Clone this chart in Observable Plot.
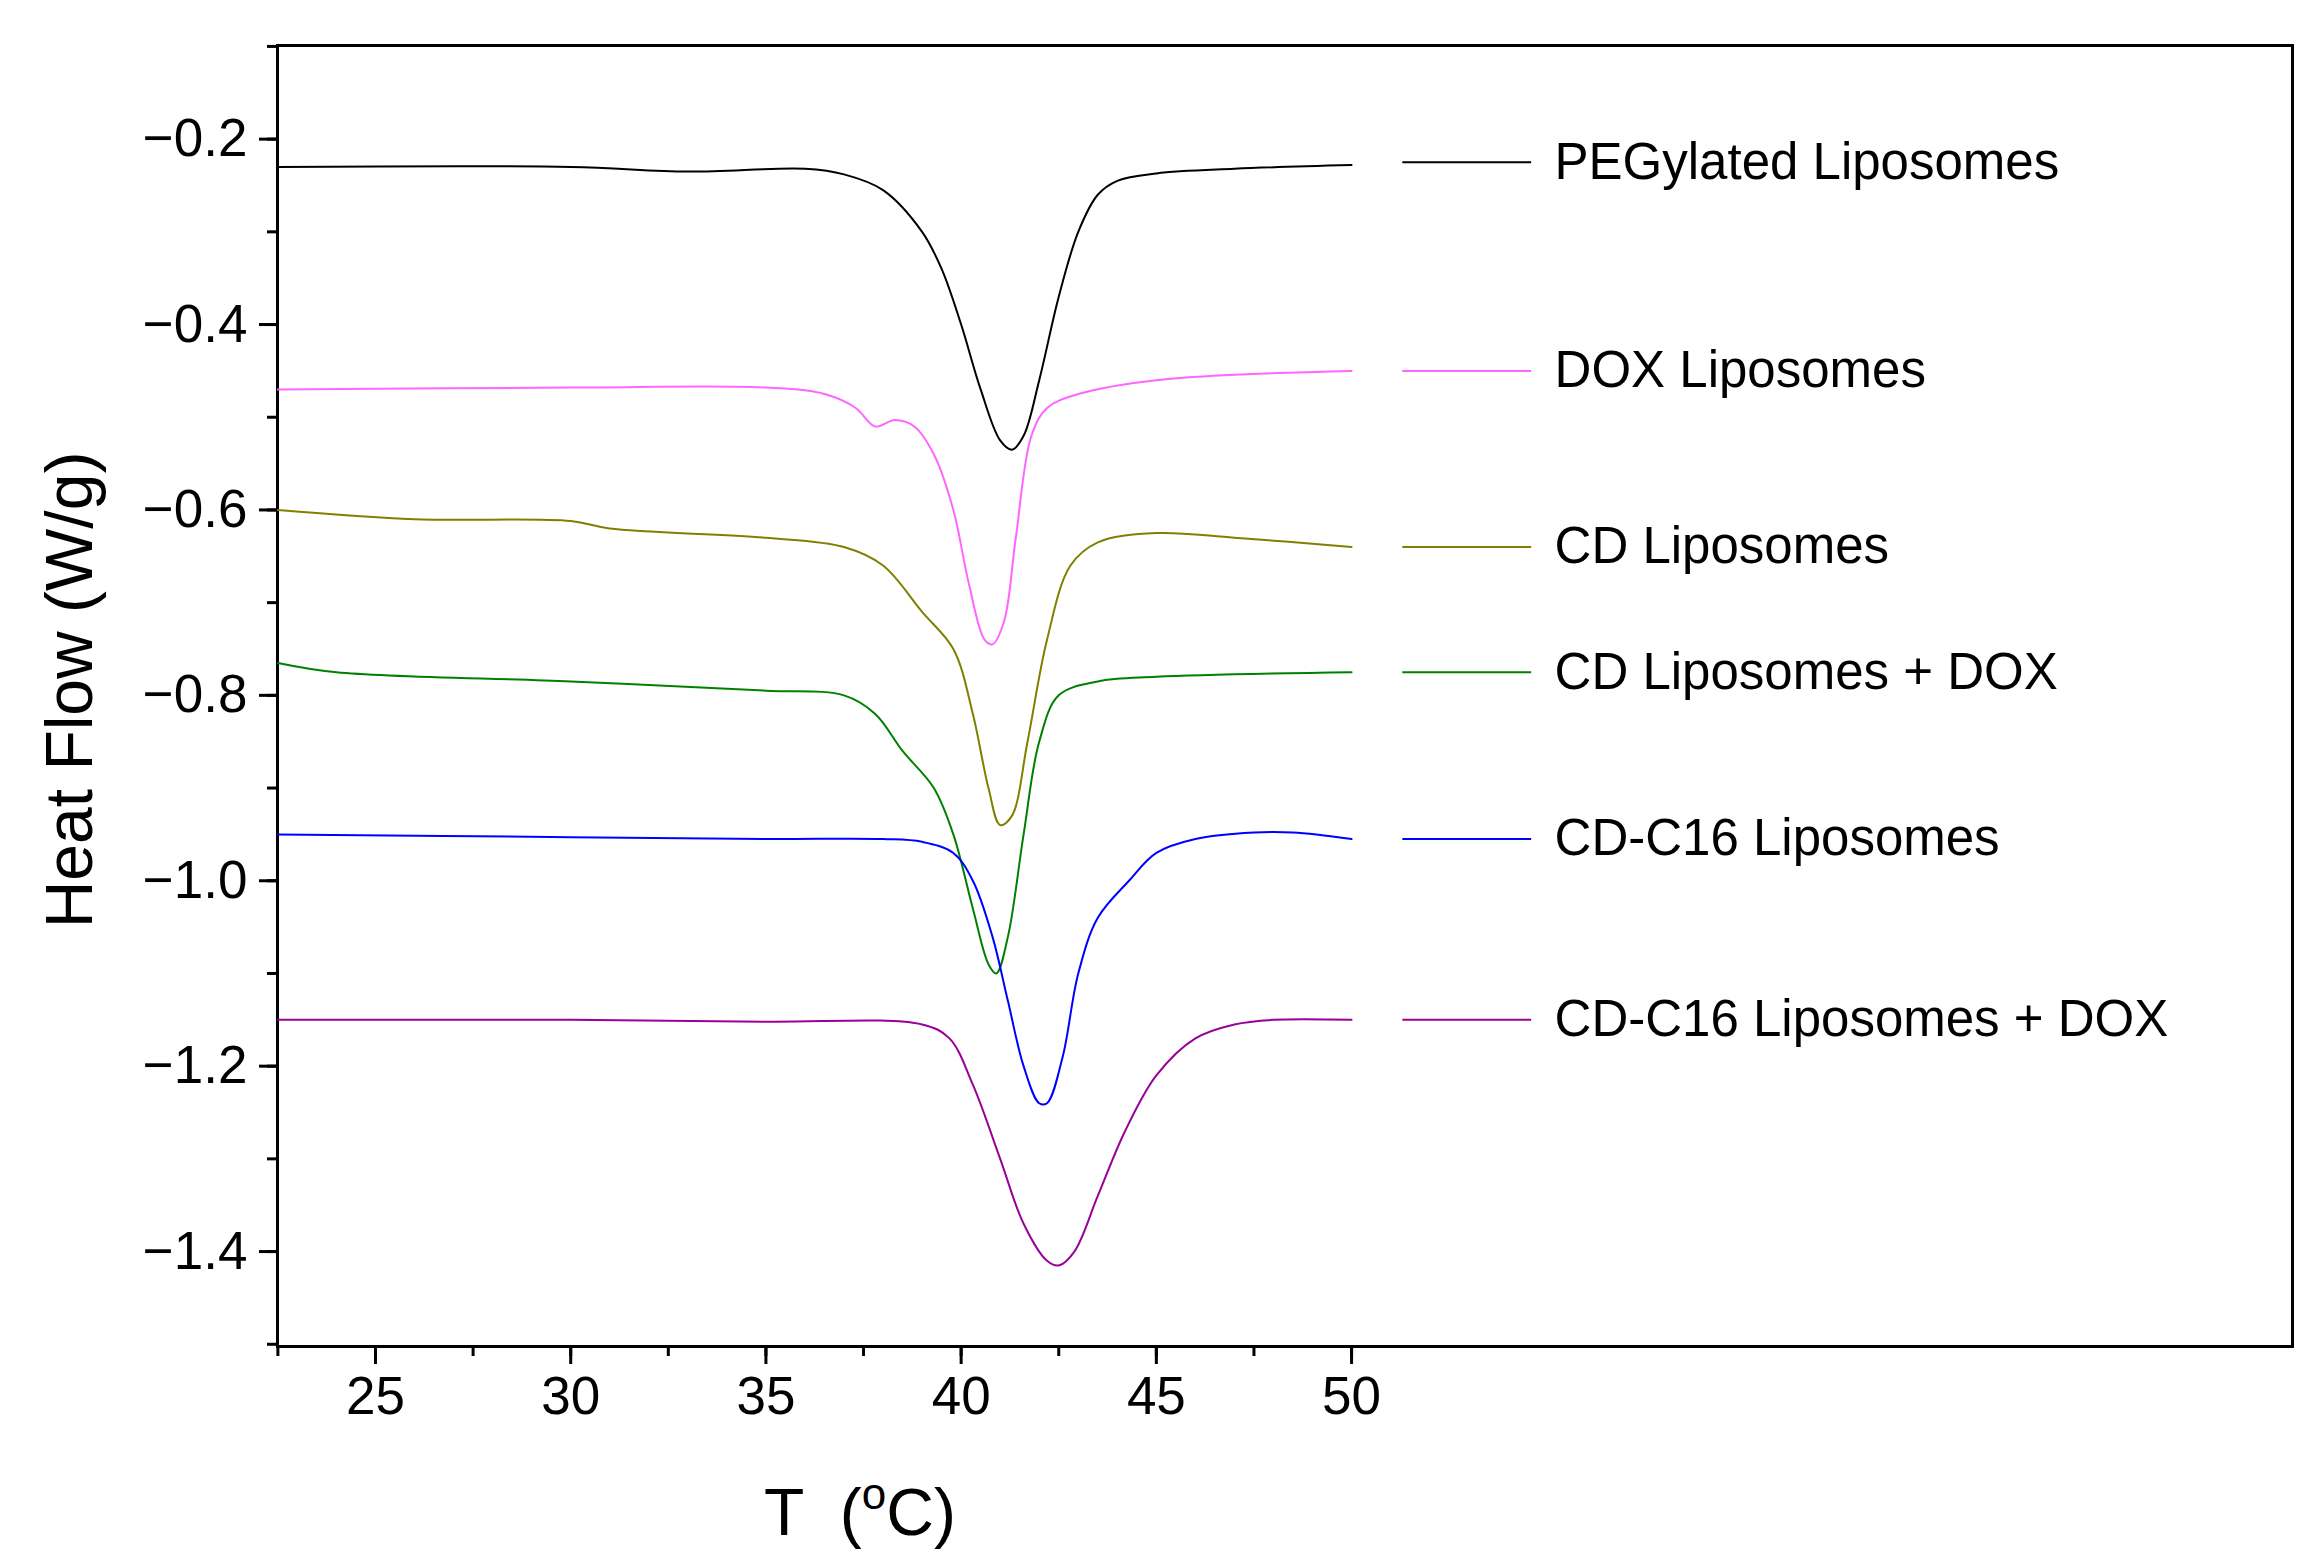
<!DOCTYPE html>
<html><head><meta charset="utf-8">
<script src="https://cdn.jsdelivr.net/npm/d3@7"></script>
<script src="https://cdn.jsdelivr.net/npm/@observablehq/plot@0.6"></script>
<style>body{margin:0;background:#fff}svg{font-family:"Liberation Sans",Arial,sans-serif}</style>
</head><body><div id="c"></div>
<script>
const seriesNames=["PEGylated Liposomes","DOX Liposomes","CD Liposomes","CD Liposomes + DOX","CD-C16 Liposomes","CD-C16 Liposomes + DOX"];
const seriesColors=["#000000","#ff66ff","#808000","#008000","#0000ff","#990099"];
const legendY=[-0.225,-0.45,-0.64,-0.775,-0.955,-1.15];
const xTicks=[25,30,35,40,45,50];
const yTicks=[-0.2,-0.4,-0.6,-0.8,-1.0,-1.2,-1.4];
const peg=[[22.5,-0.23],[30,-0.23],[33,-0.235],[36,-0.232],[37,-0.238],[38,-0.255],[39,-0.3],[39.5,-0.34],[40,-0.4],[40.5,-0.47],[41,-0.525],[41.3,-0.535],[41.6,-0.52],[42,-0.46],[42.5,-0.37],[43,-0.3],[43.5,-0.26],[44,-0.245],[45,-0.237],[47,-0.232],[50,-0.228]];
const dox=[[22.5,-0.47],[30,-0.468],[35,-0.468],[36.5,-0.475],[37.3,-0.49],[37.8,-0.51],[38.3,-0.503],[38.8,-0.51],[39.3,-0.54],[39.8,-0.6],[40.2,-0.68],[40.6,-0.74],[40.8,-0.745],[41.1,-0.72],[41.4,-0.63],[41.8,-0.52],[42.2,-0.49],[43,-0.475],[45,-0.46],[50,-0.45]];
const cd=[[22.5,-0.6],[26,-0.61],[30,-0.612],[31,-0.62],[35,-0.63],[37,-0.64],[38,-0.66],[39,-0.71],[39.8,-0.75],[40.3,-0.82],[40.7,-0.9],[41,-0.94],[41.3,-0.93],[41.7,-0.85],[42.2,-0.74],[42.8,-0.66],[43.5,-0.635],[45,-0.625],[47,-0.63],[50,-0.64]];
const cdDox=[[22.5,-0.765],[24,-0.775],[30,-0.785],[35,-0.795],[37,-0.8],[37.8,-0.82],[38.5,-0.86],[39.3,-0.9],[39.8,-0.95],[40.3,-1.03],[40.7,-1.09],[40.9,-1.1],[41.2,-1.06],[41.6,-0.95],[42,-0.85],[42.5,-0.8],[43.5,-0.785],[45,-0.78],[50,-0.775]];
const c16=[[22.5,-0.95],[30,-0.953],[35,-0.955],[38,-0.955],[39,-0.958],[39.8,-0.97],[40.3,-1.0],[40.8,-1.06],[41.2,-1.13],[41.6,-1.2],[42,-1.24],[42.2,-1.24],[42.6,-1.19],[43,-1.1],[43.5,-1.04],[44.3,-1.0],[45,-0.97],[46,-0.955],[47.5,-0.948],[48.5,-0.948],[50,-0.955]];
const c16Dox=[[22.5,-1.15],[30,-1.15],[35,-1.152],[39,-1.155],[39.7,-1.17],[40.3,-1.22],[41,-1.3],[41.6,-1.37],[42.2,-1.41],[42.5,-1.415],[42.9,-1.4],[43.5,-1.34],[44.2,-1.27],[45,-1.21],[46,-1.17],[47,-1.155],[48,-1.15],[50,-1.15]];
const all=[peg,dox,cd,cdDox,c16,c16Dox];
const rows=all.flatMap((s,i)=>s.map(([t,v])=>({t,v,s:seriesNames[i]})));
const leg=seriesNames.map((n,i)=>({n,y:legendY[i],c:seriesColors[i]}));
const minorX=d3.range(22.5,51,2.5), minorY=d3.range(-1.5,-0.09,0.1).map(v=>+v.toFixed(2));
const plot=Plot.plot({
  width:2310,height:1557,marginLeft:277,marginRight:18,marginTop:45,marginBottom:211,
  x:{domain:[22.49,74.1],label:null},y:{domain:[-1.5024,-0.099],label:null},
  color:{domain:seriesNames,range:seriesColors},
  style:{fontSize:"53px",fontFamily:"Liberation Sans, Arial, sans-serif",color:"#000"},
  marks:[
    Plot.frame({stroke:"#000",strokeWidth:3}),
    Plot.axisX(minorX,{tickSize:10,strokeWidth:3,tickFormat:()=>"",label:null}),
    Plot.axisX(xTicks,{tickSize:18,strokeWidth:3,fontSize:53,tickPadding:12,label:null}),
    Plot.axisY(minorY,{tickSize:10,strokeWidth:3,tickFormat:()=>"",label:null}),
    Plot.axisY(yTicks,{tickSize:18,strokeWidth:3,fontSize:53,tickPadding:12,label:null,tickFormat:d=>d3.format(".1f")(d).replace("-","−")}),
    Plot.line(rows,{x:"t",y:"v",z:"s",stroke:"s",strokeWidth:2,curve:"catmull-rom"}),
    Plot.link(leg,{x1:()=>51.3,x2:()=>54.6,y1:"y",y2:"y",stroke:"c",strokeWidth:2}),
    Plot.text(leg,{x:()=>55.2,y:"y",text:"n",textAnchor:"start",fontSize:51,fill:"#000"})
  ]
});
const svg=d3.select(plot);
svg.append("text").attr("transform","translate(92,690) rotate(-90)").attr("text-anchor","middle").attr("font-size",66).text("Heat Flow (W/g)");
const xl=svg.append("text").attr("x",860).attr("y",1535).attr("text-anchor","middle").attr("font-size",66);
xl.append("tspan").text("T  (");
xl.append("tspan").attr("font-size",44).attr("dy",-26).text("o");
xl.append("tspan").attr("dy",26).text("C)");
document.getElementById("c").appendChild(plot);
</script></body></html>
